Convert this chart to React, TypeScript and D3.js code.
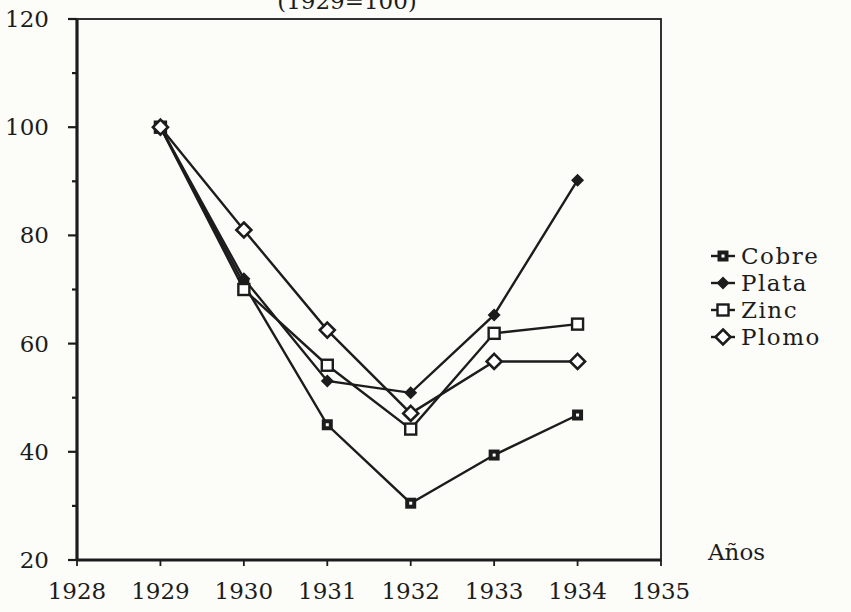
import React, { useEffect, useRef } from "react";
import * as d3 from "d3";

// years and index values (1929=100)
const years = [1929, 1930, 1931, 1932, 1933, 1934];
const cobre = [100, 71, 45, 30.5, 39.4, 46.8];
const plata = [100, 72, 53.1, 50.9, 65.3, 90.2];
const zinc = [100, 70, 56, 44.2, 61.9, 63.6];
const plomo = [100, 81, 62.5, 47.1, 56.7, 56.7];
const seriesNames = ["Cobre", "Plata", "Zinc", "Plomo"];
const yTicks = [20, 40, 60, 80, 100, 120];
const xTicks = [1928, 1929, 1930, 1931, 1932, 1933, 1934, 1935];

const FONT = "DejaVu Serif";
const FS = 23;
const INK = "#1c1c1c";

const drawMarker = (g, kind, x, y) => {
  if (kind === "Cobre") {
    g.append("rect").attr("x", x - 5.5).attr("y", y - 5.5).attr("width", 11).attr("height", 11).attr("fill", INK);
    g.append("rect").attr("x", x - 1.5).attr("y", y - 1.5).attr("width", 3).attr("height", 3).attr("fill", "#fff");
  } else if (kind === "Plata") {
    g.append("path")
      .attr("d", `M${x},${y - 6.5}L${x + 6.5},${y}L${x},${y + 6.5}L${x - 6.5},${y}Z`)
      .attr("fill", INK);
  } else if (kind === "Zinc") {
    g.append("rect").attr("x", x - 5.5).attr("y", y - 5.5).attr("width", 11).attr("height", 11)
      .attr("fill", "#fff").attr("stroke", INK).attr("stroke-width", 2.4);
  } else {
    g.append("path")
      .attr("d", `M${x},${y - 7.5}L${x + 7.5},${y}L${x},${y + 7.5}L${x - 7.5},${y}Z`)
      .attr("fill", "#fff").attr("stroke", INK).attr("stroke-width", 2.6);
  }
};

const createChart = (node) => {
  const svg = d3.select(node);
  svg.selectAll("*").remove();

  svg.append("rect").attr("width", 851).attr("height", 612).attr("fill", "#fcfcf8");

  const x = d3.scaleLinear().domain([1928, 1935]).range([77, 661]);
  const y = d3.scaleLinear().domain([20, 120]).range([560, 19]);

  // frame
  svg.append("rect")
    .attr("x", x(1928)).attr("y", y(120))
    .attr("width", x(1935) - x(1928)).attr("height", y(20) - y(120))
    .attr("fill", "none").attr("stroke", INK).attr("stroke-width", 1.8);
  svg.append("line").attr("x1", x(1928)).attr("x2", x(1928)).attr("y1", y(120)).attr("y2", y(20) + 1)
    .attr("stroke", INK).attr("stroke-width", 3.2);
  svg.append("line").attr("x1", x(1928)).attr("x2", x(1935)).attr("y1", y(20)).attr("y2", y(20))
    .attr("stroke", INK).attr("stroke-width", 2.8);

  // y axis ticks
  const yAxis = svg.append("g");
  d3.range(20, 121, 10).forEach((v) => {
    const major = v % 20 === 0;
    yAxis.append("line")
      .attr("x1", x(1928) - (major ? 9 : 5)).attr("x2", x(1928))
      .attr("y1", y(v)).attr("y2", y(v))
      .attr("stroke", INK).attr("stroke-width", 2.2);
  });
  yAxis.selectAll("text.yt").data(yTicks).enter().append("text")
    .attr("x", 49).attr("y", (d) => y(d)).attr("dy", "0.35em")
    .attr("text-anchor", "end").attr("font-family", FONT).attr("font-size", FS)
    .attr("fill", INK).text((d) => d);

  // x axis ticks
  const xAxis = svg.append("g");
  xTicks.forEach((t) => {
    xAxis.append("line").attr("x1", x(t)).attr("x2", x(t))
      .attr("y1", y(20)).attr("y2", y(20) + 6)
      .attr("stroke", INK).attr("stroke-width", 1.8);
  });
  xAxis.selectAll("text.xt").data(xTicks).enter().append("text")
    .attr("x", (d) => x(d)).attr("y", 599)
    .attr("text-anchor", "middle").attr("font-family", FONT).attr("font-size", FS)
    .attr("fill", INK).text((d) => d);

  svg.append("text").attr("x", 708).attr("y", 560)
    .attr("font-family", FONT).attr("font-size", FS).attr("fill", INK).text("Años");

  svg.append("text").attr("x", 347).attr("y", 9).attr("text-anchor", "middle")
    .attr("font-family", FONT).attr("font-size", FS).attr("fill", INK).text("(1929=100)");

  // series
  const data = [cobre, plata, zinc, plomo];
  const line = d3.line().x((d) => x(d[0])).y((d) => y(d[1]));
  data.forEach((vals) => {
    svg.append("path")
      .attr("d", line(years.map((yr, i) => [yr, vals[i]])))
      .attr("fill", "none").attr("stroke", INK).attr("stroke-width", 2.4);
  });
  data.forEach((vals, si) => {
    const g = svg.append("g");
    years.forEach((yr, i) => drawMarker(g, seriesNames[si], x(yr), y(vals[i])));
  });

  // legend
  const legend = svg.append("g");
  seriesNames.forEach((name, i) => {
    const ly = 256 + i * 27;
    legend.append("line").attr("x1", 711).attr("x2", 735).attr("y1", ly).attr("y2", ly)
      .attr("stroke", INK).attr("stroke-width", 2.4);
    drawMarker(legend, name, 723, ly);
    legend.append("text").attr("x", 741).attr("y", ly).attr("dy", "0.35em")
      .attr("font-family", FONT).attr("font-size", FS).attr("letter-spacing", 1.5)
      .attr("fill", INK).text(name);
  });
};

export default function App() {
  const ref = useRef(null);
  useEffect(() => {
    createChart(ref.current);
  }, []);
  return (
    <svg ref={ref} width={851} height={612}
      style={{ position: "absolute", left: 0, top: 0, display: "block" }} />
  );
}
